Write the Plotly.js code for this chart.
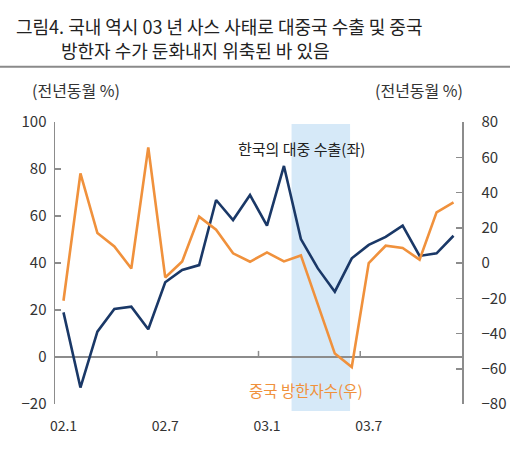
<!DOCTYPE html>
<html>
<head>
<meta charset="utf-8">
<script src="https://cdn.plot.ly/plotly-3.0.1.min.js"></script>
<style>html,body{margin:0;padding:0;background:#fff;}#chart{width:530px;height:453px;}</style>
</head>
<body>
<div id="chart"></div>
<script>
// Categories (monthly, 2002.1 - 2003.12)
const months = ["02.1","02.2","02.3","02.4","02.5","02.6","02.7","02.8","02.9","02.10","02.11","02.12",
                "03.1","03.2","03.3","03.4","03.5","03.6","03.7","03.8","03.9","03.10","03.11","03.12"];
// 한국의 대중 수출 (좌축, 전년동월 %)
const exportsToChina = [19.0, -13.0, 10.8, 20.4, 21.4, 11.8, 31.8, 37.0, 39.1, 66.8, 58.3, 68.9,
                        55.9, 81.3, 50.2, 37.7, 27.8, 42.0, 47.7, 51.1, 55.9, 43.0, 44.1, 51.6];
// 중국 방한자수 (우축, 전년동월 %)
const chineseVisitors = [-21.4, 50.8, 17.0, 9.4, -3.1, 65.6, -8.2, 0.9, 26.3, 18.9, 5.5, 0.7,
                         6.0, 0.9, 4.3, -23.0, -51.4, -59.0, 0.0, 9.8, 8.5, 1.9, 28.7, 34.4];
const tickLabels = ["02.1","02.7","03.1","03.7"];
const leftTicks = [-20, 0, 20, 40, 60, 80, 100];
const rightTicks = [-80, -60, -40, -20, 0, 20, 40, 60, 80];
const sarsStart = 13.45, sarsEnd = 16.9;
const boundaryTicks = [5.5, 11.5, 17.5];

const FONT = "'Noto Sans CJK KR', 'Noto Sans', sans-serif";
const BLUE = "#1a3867", ORANGE = "#f0913c", SHADE = "#d6e9f8", AXIS = "#8c8c8c";

const traces = [
  {x: months, y: exportsToChina, type: 'scatter', mode: 'lines', yaxis: 'y',
   line: {color: BLUE, width: 2.6}, hoverinfo: 'skip'},
  {x: months, y: chineseVisitors, type: 'scatter', mode: 'lines', yaxis: 'y2',
   line: {color: ORANGE, width: 2.6}, hoverinfo: 'skip'}
];

const shapes = [
  {type: 'rect', xref: 'x', yref: 'paper', x0: sarsStart, x1: sarsEnd, y0: -0.025, y1: 0.993,
   fillcolor: SHADE, line: {width: 0}, layer: 'below'},
  {type: 'line', xref: 'paper', yref: 'paper', x0: -55/407, x1: 455/407, y0: 1.196, y1: 1.196,
   line: {color: '#8a8a8a', width: 2}}
];
boundaryTicks.forEach(t => shapes.push({type: 'line', xref: 'x', yref: 'y', x0: t, x1: t, y0: 0, y1: 2.6,
  line: {color: AXIS, width: 1.5}}));

const layout = {
  width: 530, height: 453,
  margin: {l: 55, r: 68, t: 122, b: 49},
  paper_bgcolor: '#fff', plot_bgcolor: 'rgba(0,0,0,0)',
  showlegend: false,
  font: {family: FONT, color: '#333', size: 15},
  title: {text: "그림4. 국내 역시 03 년 사스 사태로 대중국 수출 및 중국", xref: 'container', yref: 'container',
          x: 16/530, xanchor: 'left', y: 1 - 28/453, yanchor: 'middle',
          font: {family: FONT, size: 18, color: '#222'}},
  xaxis: {type: 'category', range: [-0.5, 23.5], showgrid: false, zeroline: false, showline: false,
          ticks: '', tickmode: 'array', tickvals: tickLabels, ticktext: tickLabels,
          ticklabelstandoff: 12, tickfont: {size: 14, color: '#333'}, fixedrange: true},
  yaxis: {range: [-20, 100], tickmode: 'array', tickvals: leftTicks, showgrid: false,
          zeroline: true, zerolinecolor: AXIS, zerolinewidth: 1.5,
          showline: true, linecolor: AXIS, linewidth: 1.5, ticks: 'inside', ticklen: 6, tickcolor: AXIS,
          tickwidth: 1.5, tickfont: {size: 15, color: '#333'}, ticklabelstandoff: 4},
  yaxis2: {range: [-80, 80], overlaying: 'y', side: 'right', tickmode: 'array', tickvals: rightTicks,
          showgrid: false, zeroline: false, showline: true, linecolor: AXIS, linewidth: 1.5,
          ticks: 'inside', ticklen: 6, tickcolor: AXIS, tickwidth: 1.5,
          tickfont: {size: 15, color: '#333'}, ticklabelstandoff: 15},
  shapes: shapes,
  annotations: [
    {text: "방한자 수가 둔화내지 위축된 바 있음", xref: 'paper', yref: 'paper',
     x: (59-55)/407, xanchor: 'left', y: (404-50)/282, yanchor: 'middle', showarrow: false,
     font: {family: FONT, size: 18, color: '#222'}},
    {text: "(전년동월 %)", xref: 'paper', yref: 'paper', x: (75.5-55)/407, y: (404-90)/282,
     xanchor: 'center', yanchor: 'middle', showarrow: false, font: {size: 16, color: '#333'}},
    {text: "(전년동월 %)", xref: 'paper', yref: 'paper', x: (419-55)/407, y: (404-90)/282,
     xanchor: 'center', yanchor: 'middle', showarrow: false, font: {size: 16, color: '#333'}},
    {text: "한국의 대중 수출(좌)", xref: 'x', yref: 'y', x: 14.06, y: 88.9,
     xanchor: 'center', yanchor: 'middle', showarrow: false, font: {size: 15, color: '#222'}},
    {text: "중국 방한자수(우)", xref: 'x', yref: 'y', x: 14.3, y: -14.0,
     xanchor: 'center', yanchor: 'middle', showarrow: false, font: {size: 15.5, color: ORANGE}}
  ]
};

Plotly.newPlot('chart', traces, layout, {displayModeBar: false, staticPlot: true});
</script>
</body>
</html>
